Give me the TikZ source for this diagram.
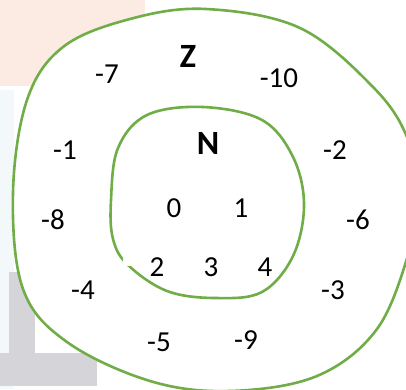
\documentclass[tikz,border=0pt]{standalone}
\usepackage{fontspec}
\setmainfont{Carlito}
\usepackage{tikz}
\definecolor{setgreen}{HTML}{70AD47}
\definecolor{bgpink}{HTML}{FBEBE2}
\definecolor{bggray}{HTML}{D5D4D9}
\definecolor{bgcyan}{HTML}{F3F9FA}

\begin{document}
\begin{tikzpicture}[x=1pt, y=-1pt,
    every node/.style={font=\fontsize{29}{31}\selectfont, inner sep=0pt},
    setname/.style={font=\fontsize{34}{36}\selectfont\bfseries},
    setline/.style={draw=setgreen, line width=2.6pt, line join=round}
]
\useasboundingbox (0,0) rectangle (406,389);
\clip (0,0) rectangle (406,389);
% faint screenshot background
\fill[bgcyan] (0,90) rectangle (14,389);
\fill[bgpink] (0,0) rectangle (145,86);
\fill[bggray] (9,272) rectangle (35,353);
\fill[bggray] (0,353) rectangle (97,386);
% Z
\draw[setline, fill=white] plot[smooth cycle, tension=0.6] coordinates {
    (206,9) (300,28) (373,87) (407,137) (419,196) (409,252) (377,329)
    (317,376) (230,391) (150,381) (67,342) (23,289) (13,193) (27,100)
    (63,47) (130,19)};
% N
\draw[setline] plot[smooth cycle, tension=0.6] coordinates {
    (203,107) (262,120) (293,157) (304,205) (293,256) (262,292) (215,298)
    (167,291) (128,265) (113,239) (111,200) (118,148) (147,115)};
\fill[white] (123,256) rectangle (132,266);

\node[setname] (zset) at (188,56) {Z};
\node[setname] (nset) at (208,143) {N};

\node (nat0) at (174,208) {0};
\node (nat1) at (241,208) {1};
\node (nat2) at (157,267) {2};
\node (nat3) at (211,267) {3};
\node (nat4) at (265,267) {4};

\node (neg7) at (107,74) {-7};
\node (neg10) at (279,78) {-10};
\node (neg1) at (65,150) {-1};
\node (neg2) at (335,150) {-2};
\node (neg8) at (53,220) {-8};
\node (neg6) at (358,220) {-6};
\node (neg4) at (83,290) {-4};
\node (neg3) at (333,290) {-3};
\node (neg5) at (159,342) {-5};
\node (neg9) at (246,340) {-9};
\end{tikzpicture}
\end{document}
